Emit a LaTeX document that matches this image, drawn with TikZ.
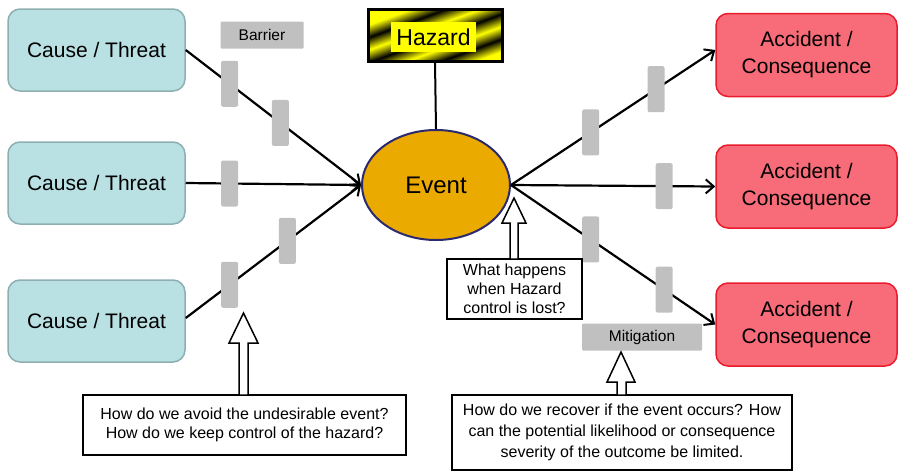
\documentclass[tikz,border=0pt]{standalone}
\usepackage{fontspec}
\setmainfont{Liberation Sans}
\usetikzlibrary{shapes.geometric,arrows.meta}
\definecolor{causefill}{HTML}{B9E0E3}
\definecolor{causeline}{HTML}{8EAFB1}
\definecolor{accfill}{HTML}{F76C78}
\definecolor{accline}{HTML}{EA1C2C}
\definecolor{evfill}{HTML}{EAAA00}
\definecolor{evline}{HTML}{2B2A6E}
\definecolor{bargray}{HTML}{C0C0C0}
\definecolor{hazyellow}{HTML}{FFFF00}
\pgfdeclarehorizontalshading{hazstripe}{100bp}{color(0bp)=(hazyellow); color(28bp)=(hazyellow); color(36bp)=(black); color(44bp)=(hazyellow); color(52bp)=(black); color(60bp)=(hazyellow); color(68bp)=(black); color(76bp)=(hazyellow); color(100bp)=(hazyellow)}
\begin{document}
\begin{tikzpicture}[x=1pt,y=-1pt,
  cause/.style={draw=causeline, fill=causefill, line width=1.5pt, rounded corners=12pt, minimum width=177pt, minimum height=82pt, inner sep=0pt, font=\fontsize{21}{25}\selectfont},
  acc/.style={draw=accline, fill=accfill, line width=1.5pt, rounded corners=12pt, minimum width=181pt, minimum height=83pt, inner sep=0pt, align=center, font=\fontsize{21}{27}\selectfont},
  conn/.style={line width=2.2pt, -{Straight Barb[length=8pt,width=14pt,line width=2pt]}},
  barrier/.style={fill=bargray, rounded corners=2pt, minimum width=17pt, minimum height=46pt, inner sep=0pt},
  tag/.style={fill=bargray, rounded corners=1pt, inner sep=0pt, font=\fontsize{15.5}{18}\selectfont},
  callout/.style={draw=black, fill=white, line width=1.5pt, inner sep=0pt, align=center, font=\fontsize{16}{19}\selectfont},
  blockarrow/.style={draw=black, fill=white, line width=1.5pt, line join=miter}
]
\useasboundingbox (0,0) rectangle (899,472);

% causes
\node[cause] (c1) at (96.5,50) {Cause / Threat};
\node[cause] (c2) at (96.5,183) {Cause / Threat};
\node[cause] (c3) at (96.5,321) {Cause / Threat};

% accidents
\node[acc] (a1) at (806.5,55) {Accident /\\Consequence};
\node[acc] (a2) at (806.5,186.5) {Accident /\\Consequence};
\node[acc] (a3) at (806.5,324.5) {Accident /\\Consequence};

% hazard
\node[shade, shading=hazstripe, shading angle=-70, draw=black, line width=3pt, minimum width=134pt, minimum height=52pt, inner sep=0pt] (hz) at (435,35) {};
\node[fill=hazyellow, minimum width=85pt, minimum height=30pt, inner sep=0pt, font=\fontsize{23}{26}\selectfont] (hzl) at (433.5,37) {Hazard};

% event
\node[ellipse, draw=evline, fill=evfill, line width=2pt, minimum width=148pt, minimum height=110pt, inner sep=0pt, font=\fontsize{24}{28}\selectfont] (ev) at (436,185) {Event};

\draw[line width=2pt] (hz.south) -- (ev.north);

% threat lines with barriers
\draw[conn] (c1.east) -- node[barrier, pos=0.25] (b1) {} node[barrier, pos=0.54] (b2) {} (ev.west);
\draw[conn] (c2.east) -- node[barrier, pos=0.25] (b3) {} (ev.west);
\draw[conn] ([yshift=3pt]c3.east) -- node[barrier, pos=0.25] (b4) {} node[barrier, pos=0.58] (b5) {} (ev.west);

% consequence lines with barriers
\draw[conn] (ev.east) -- node[barrier, pos=0.39] (m1) {} node[barrier, pos=0.71] (m2) {} ([yshift=5pt]a1.west);
\draw[conn] (ev.east) -- node[barrier, pos=0.75] (m3) {} (a2.west);
\draw[conn] (ev.east) -- node[barrier, pos=0.39] (m4) {} node[barrier, pos=0.75] (m5) {} (a3.west);

% tags
\node[tag, minimum width=83pt, minimum height=27pt] (bt) at (262,35) {Barrier};
\node[tag, minimum width=120pt, minimum height=27pt] (mt) at (642,337) {Mitigation};

% callouts
\node[callout, minimum width=135pt, minimum height=60pt] (q1) at (514.5,289) {What happens\\when Hazard\\control is lost?};
\node[callout, minimum width=323pt, minimum height=60pt] (q2) at (244.5,425) {How do we avoid the undesirable event?\\How do we keep control of the hazard?};
\node[callout, minimum width=340pt, minimum height=75pt, font=\fontsize{16}{21}\selectfont] (q3) at (622,432.5) {How do we recover if the event occurs? How\\can the potential likelihood or consequence\\severity of the outcome be limited.};

% block arrows
\draw[blockarrow] (514,198) -- (526,223) -- (518,223) -- (518,259) -- (510,259) -- (510,223) -- (502,223) -- cycle;
\draw[blockarrow] (243.5,313) -- (258,343) -- (248,343) -- (248,395) -- (239,395) -- (239,343) -- (229,343) -- cycle;
\draw[blockarrow] (621,352) -- (635,382) -- (626,382) -- (626,395) -- (617,395) -- (617,382) -- (607,382) -- cycle;
\end{tikzpicture}
\end{document}
